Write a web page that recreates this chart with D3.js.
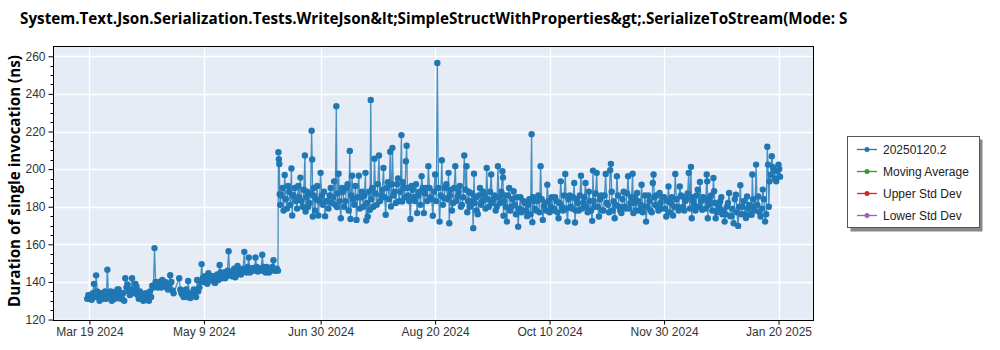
<!DOCTYPE html>
<html><head><meta charset="utf-8">
<script src="https://cdn.jsdelivr.net/npm/d3@7"></script>
<style>body{margin:0;background:#fff;} svg{display:block;}</style>
</head><body>
<svg id="chart" width="1000" height="350"></svg>
<script>
const titleText = "System.Text.Json.Serialization.Tests.WriteJson&lt;SimpleStructWithProperties&gt;.SerializeToStream(Mode: S";
const yLabel = "Duration of single invocation (ns)";
const seriesNames = ["20250120.2", "Moving Average", "Upper Std Dev", "Lower Std Dev"];
const seriesColors = ["#1f77b4", "#2ca02c", "#d62728", "#9467bd"];
const xTickDates = ["2024-03-19", "2024-05-09", "2024-06-30", "2024-08-20", "2024-10-10", "2024-11-30", "2025-01-20"];
const xTickLabels = ["Mar 19 2024", "May 9 2024", "Jun 30 2024", "Aug 20 2024", "Oct 10 2024", "Nov 30 2024", "Jan 20 2025"];
const yTicks = [120, 140, 160, 180, 200, 220, 240, 260];
const firstDay = "2024-03-18";
// one entry per day from firstDay; an array = several runs that day; null = no run
const runsMarToJun = [
  131, 133, 130.5, 139, 143.5, 132, 134, 131, 135, 146.5,
  133, 130, 134.5, 132, 136, 131, 134, 142, 138.7, 133,
  142, 135, 137.5, 131, 133.5, 130, 134, 131.5, 135, 138,
  158, 139, 140, 137, 138.5, 139.8, 136, 143.6, 135.5, null,
  null, 142, 134, 132, 136, 140.5, 131.5, 134, 133, 141,
  137, 149.5, 140, 142, 144.6, 141, 143, 139.5, 144, 149,
  142, 145, 143, 156.3, 144, 146, 142.5, 148.5, 145, 146.5,
  156, 145, 153, 146, 147.5, 153, 145.5, 147, 154.5, 146,
  148, 145, 147, 151.5, 146
];
const runsJunToSep = [
  [146, 209, 205.3, 202.7, 186.7], 181, 190, 196.9, 179, 188, [200.3, 175.3], 186, 183, 191,
  195.5, 180, [207.2, 177.5], 188, 182, [220.4, 205.1, 174.8], 190, 184, 175.3, 198,
  181, 175, 183, 186, 182, 193.5, [233.4, 179.8], 197.6, 173.9, 188,
  183, 192, [209.6, 173.5], 196.5, 181, 173, 196.5, 185, 180, [198, 172.7],
  174.8, [178.4, 236.8], 190, 205.5, 181, 207.2, 186, 200.6, 175.7, 193,
  [209.2, 180.1], 211.3, 188, 192, 183, [218.1, 182.8], 190, [204.2, 212.4], 186, 173.5,
  189, 183, 176.6, 188, 196.2, 176.6, 190, 201.5, 185, 175.2,
  197.1, 256.4, 172.1, 204.7, 184.6, 192, [198, 171.2], 189, 182, 201.5,
  185.5, 191, 181, 207.2, [201.5, 177.1], 188, 183, [168.6, 197.6], 185, 176
];
const runsSepToJan = [
  190, 183, 186, 200.6, 180, 197.1, 184, 178, 201.5, 182,
  [198.9, 195.6, 175.2], 186, 172.1, 190, 180, 188.2, 176, 169.4, 185, 178,
  182, 175, 184, [218.5, 171.8], 183, 178, 186, 201.5, 173, 182,
  191.7, 177, 185, 179, 183, 173.9, 193.5, 178, 197.4, 172.1,
  186, 179, [192.6, 171.6], 184, 178, 196.5, 182, 192.6, 177, 183,
  [172.5, 199.2], 180, 198, 174.8, 186, 178, 197.4, 181, [199.4, 202.8], 178,
  173.9, 196.2, 180, 176.6, 188, 179, 196.2, 182, [197.6, 176.6], 185,
  187.3, 178, 191.7, 180, 172.1, 186, 178, [192.6, 197.1], 181, 180.1,
  187.3, 179, 185, 174.8, 190.8, 182, 175.3, 197.4, 180, 190.8,
  185.5, 178, 184, 198, [201.2, 173.9], 183, 178, 189.1, 193.2, 178.4,
  184, [197.1, 193.5, 173.9], 181, 186, [195.3, 188.2], 173.9, 178, 182.8, 176, 172.1,
  180, 187.3, 175, 171.2, 186.4, 169.8, 191.4, 180, 176, 185.5,
  181, [175.7, 197.1], 180, 202.4, 185.5, 174.8, 189.1, 172.1, [211.9, 202.4], 193.5,
  206.9, 198.9, 193.5, [202.4, 200.1]
];
// a further run late in each day (null = none)
const lateRunsMarToJun = [
  133, 131, 134, 132, 135, 130, 132, 133, 131, 134,
  135, 132, 131, 136, 133, 134, 130, 137, 135, 136,
  134, 139, 133, 135, 132, 131, 133, 130, 132, 137,
  140, 137, 138, 141, 139, 137, 138, 140, 134, null,
  null, 136, 133, 135, 132, 134, 133, 136, 132, 135,
  140, 142, 143, 139, 141, 143, 140, 142, 141, 145,
  144, 142, 146, 145, 143, 147, 144, 146, 144, 147,
  146, 148, 145, 147, 146, 148, 147, 146, 148, 145,
  147, 146, 148, 146, 147
];
const lateRunsJunToSep = [
  null, 186, 178, 184, 191, 181, 186, 190, 179, 185,
  183, 189, 185, 180, 187, 186, 178, 191, 183, 186,
  188, 183, 179, 190, 185, 181, 187, 183, 190, 180,
  190, 178, 186, 184, 191, 185, 179, 188, 186, 182,
  188, 184, 180, 187, 192, 183, 189, 185, 190, 184,
  192, 186, 182, 195, 188, 193, 185, 190, 183, 191,
  185, 192, 186, 181, 190, 187, 183, 190, 184, 188,
  183, 190, 186, 181, 190, 184, 186, 178, 190, 183,
  188, 180, 185, 189, 183, 180, 187, 182, 178, 186,
  181, 188, 179, 184, 188, 182, 186, 180, 185, 188
];
const lateRunsSepToJan = [
  183, 180, 186, 178, 184, 181, 185, 179, 177, 183,
  178, 181, 176, 185, 179, 183, 177, 184, 180, 178,
  183, 180, 178, 185, 177, 182, 180, 186, 179, 184,
  180, 185, 178, 182, 186, 179, 185, 180, 188, 178,
  183, 187, 180, 184, 178, 186, 182, 177, 188, 183,
  181, 186, 178, 184, 180, 187, 179, 185, 182, 178,
  183, 181, 177, 186, 180, 183, 177, 185, 186, 178,
  182, 185, 179, 183, 177, 185, 180, 184, 178, 186,
  180, 183, 187, 179, 185, 181, 186, 180, 183, 185,
  179, 183, 185, 178, 182, 177, 180, 185, 178, 176,
  182, 175, 179, 184, 177, 180, 176, 183, 174, 179,
  176, 184, 178, 181, 177, 179, 184, 176, 180, 197,
  201, 195, 199, 196
];

const parse = d3.timeParse("%Y-%m-%d");
const start = parse(firstDay);
const allDays = runsMarToJun.concat(runsJunToSep, runsSepToJan);
const allLate = lateRunsMarToJun.concat(lateRunsJunToSep, lateRunsSepToJan);
const points = [];
allDays.forEach((entry, day) => {
  let runs = entry === null ? [] : (Array.isArray(entry) ? entry.slice() : [entry]);
  if (allLate[day] != null) runs.push(allLate[day]);
  runs.forEach((v, i) => {
    const t = d3.timeDay.offset(start, day).getTime() + (i / runs.length) * 86400000;
    points.push({ date: new Date(t), value: v });
  });
});

const svg = d3.select("#chart");
const pL = 53.5, pR = 813.5, pT = 46.5, pB = 320.5;
const x = d3.scaleTime()
  .domain([new Date(2024, 2, 3), new Date(2025, 1, 4, 14)])
  .range([pL, pR]);
const y = d3.scaleLinear().domain([119.5, 265.2]).range([pB, pT]);

// title
const title = svg.append("text").attr("x", 20).attr("y", 24)
  .attr("font-family", "'Open Sans', 'Noto Sans', sans-serif").attr("font-weight", "bold")
  .attr("font-size", 15).attr("fill", "#000").text(titleText);
const tw = title.node().getComputedTextLength();
title.attr("font-size", 15 * 828 / tw);

// plot background
svg.append("rect").attr("x", pL).attr("y", pT).attr("width", pR - pL).attr("height", pB - pT)
  .attr("fill", "#e5ecf6");

// grid
const xTicks = xTickDates.map(parse);
svg.append("g").selectAll("line").data(xTicks).join("line")
  .attr("x1", d => Math.round(x(d)) + 0.5).attr("x2", d => Math.round(x(d)) + 0.5)
  .attr("y1", pT).attr("y2", pB).attr("stroke", "#fff").attr("stroke-width", 1.3);
svg.append("g").selectAll("line").data(yTicks).join("line")
  .attr("x1", pL).attr("x2", pR)
  .attr("y1", d => Math.round(y(d)) + 0.5).attr("y2", d => Math.round(y(d)) + 0.5)
  .attr("stroke", "#fff").attr("stroke-width", 1.3);

// data
svg.append("clipPath").attr("id", "clip").append("rect")
  .attr("x", pL).attr("y", pT).attr("width", pR - pL).attr("height", pB - pT);
const g = svg.append("g").attr("clip-path", "url(#clip)");
const line = d3.line().x(d => x(d.date)).y(d => y(d.value));
g.append("path").datum(points).attr("d", line).attr("fill", "none")
  .attr("stroke", seriesColors[0]).attr("stroke-width", 1.3).attr("stroke-opacity", 0.8);
g.append("g").selectAll("circle").data(points).join("circle")
  .attr("cx", d => x(d.date)).attr("cy", d => y(d.value)).attr("r", 3.2)
  .attr("fill", seriesColors[0]);

// frame
svg.append("rect").attr("x", pL).attr("y", pT).attr("width", pR - pL).attr("height", pB - pT)
  .attr("fill", "none").attr("stroke", "#000").attr("stroke-width", 1);

// axes
const tickFont = "'Liberation Sans', Arial, sans-serif";
const xAxis = svg.append("g").attr("transform", `translate(0,${pB})`)
  .call(d3.axisBottom(x).tickValues(xTicks).tickFormat((d, i) => xTickLabels[i]).tickSize(4).tickPadding(3));
xAxis.select(".domain").remove();
xAxis.selectAll("text").attr("font-family", tickFont).attr("font-size", 12).attr("fill", "#333");
const yAxis = svg.append("g").attr("transform", `translate(${pL},0)`)
  .call(d3.axisLeft(y).tickValues(yTicks).tickSize(5).tickPadding(3));
yAxis.select(".domain").remove();
yAxis.selectAll("text").attr("font-family", tickFont).attr("font-size", 12).attr("fill", "#333");
const minor = d3.range(120, 265, 5).filter(v => v % 20 !== 0);
svg.append("g").selectAll("line").data(minor).join("line")
  .attr("x1", pL - 3).attr("x2", pL)
  .attr("y1", d => Math.round(y(d)) + 0.5).attr("y2", d => Math.round(y(d)) + 0.5)
  .attr("stroke", "#000");

// y label
const yl = svg.append("text").attr("transform", "translate(20,181) rotate(-90)")
  .attr("text-anchor", "middle")
  .attr("font-family", "'Open Sans', 'Noto Sans', sans-serif").attr("font-weight", "bold")
  .attr("font-size", 16).attr("fill", "#000").text(yLabel);
const yw = yl.node().getComputedTextLength();
yl.attr("font-size", 16 * 252 / yw);

// legend
const lg = svg.append("g");
lg.append("rect").attr("x", 850.5).attr("y", 139.5).attr("width", 132).attr("height", 92).attr("fill", "#888");
lg.append("rect").attr("x", 847.5).attr("y", 136.5).attr("width", 132).attr("height", 91)
  .attr("fill", "#fff").attr("stroke", "#555");
seriesNames.forEach((name, i) => {
  const yy = 149.5 + i * 22;
  lg.append("line").attr("x1", 857).attr("x2", 877).attr("y1", yy).attr("y2", yy)
    .attr("stroke", seriesColors[i]).attr("stroke-width", 1.3);
  lg.append("circle").attr("cx", 867).attr("cy", yy).attr("r", 2.5).attr("fill", seriesColors[i]);
  lg.append("text").attr("x", 883).attr("y", yy + 4).attr("font-family", tickFont)
    .attr("font-size", 12).attr("fill", "#222").text(name);
});
</script>
</body></html>
